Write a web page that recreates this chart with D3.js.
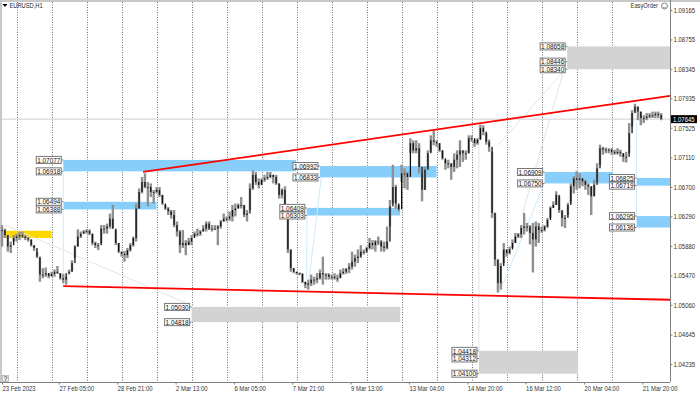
<!DOCTYPE html>
<html>
<head>
<meta charset="utf-8">
<script src="https://cdn.jsdelivr.net/npm/d3@7"></script>
<style>
    html, body { margin: 0; padding: 0; background: #fff; overflow: hidden; }
    svg { display: block; }
    svg text { font-family: "Liberation Sans", sans-serif; }
</style>
</head>
<body>
<svg id="chart" width="700" height="393"></svg>
<script>
// two-hour candles, values are price * 10000
const highs = [10617,10612,10603,10594,10603,10605,10608,10608,10603,10600,10597,10589,10580,10571,10557,10558,10550,10552,10555,10560,
    10550,10549,10545,10555,10568,10589,10611,10608,10610,10611,10611,10605,10594,10592,10617,10617,10619,10633,10645,10610,
    10592,10580,10581,10585,10592,10601,10647,10668,10684,10689,10677,10675,10666,10670,10670,10659,10645,10642,10638,10638,
    10622,10610,10610,10596,10599,10603,10608,10612,10610,10617,10622,10622,10617,10617,10617,10624,10633,10629,10636,10645,
    10647,10647,10656,10645,10638,10675,10693,10691,10682,10682,10687,10691,10691,10687,10687,10675,10668,10671,10638,10583,
    10557,10552,10551,10550,10538,10541,10548,10545,10550,10555,10573,10550,10550,10548,10550,10548,10555,10557,10557,10564,
    10580,10576,10583,10589,10583,10587,10599,10596,10596,10601,10596,10594,10615,10652,10701,10673,10645,10701,10696,10691,
    10738,10735,10735,10731,10689,10698,10721,10742,10749,10735,10731,10721,10708,10708,10703,10717,10721,10735,10721,10721,
    10742,10742,10736,10738,10757,10756,10745,10736,10719,10634,10569,10564,10592,10583,10587,10597,10606,10606,10617,10634,
    10620,10617,10620,10622,10620,10615,10617,10627,10643,10650,10664,10657,10636,10631,10648,10675,10685,10692,10689,10682,
    10680,10675,10671,10680,10703,10729,10726,10725,10724,10724,10722,10724,10722,10717,10719,10759,10777,10786,10782,10775,
    10770,10773,10773,10775,10775,10775,10773];
const lows = [10587,10599,10580,10578,10594,10594,10596,10599,10596,10594,10587,10581,10571,10538,10543,10545,10543,10545,10545,10549,
    10541,10536,10534,10548,10552,10571,10587,10599,10605,10605,10603,10589,10585,10582,10592,10605,10605,10612,10612,10589,
    10578,10573,10566,10571,10580,10587,10594,10640,10661,10668,10643,10656,10647,10661,10656,10645,10638,10631,10626,10614,
    10601,10578,10585,10575,10589,10589,10601,10601,10602,10608,10608,10610,10608,10610,10589,10612,10622,10622,10623,10622,
    10629,10640,10640,10628,10622,10638,10666,10673,10668,10673,10677,10680,10682,10675,10673,10654,10654,10638,10578,10552,
    10550,10548,10547,10536,10529,10527,10532,10534,10536,10541,10534,10541,10541,10541,10541,10538,10543,10548,10549,10550,
    10555,10559,10564,10571,10576,10578,10583,10583,10580,10589,10580,10580,10583,10615,10647,10640,10636,10677,10668,10666,
    10717,10717,10717,10689,10650,10666,10696,10719,10728,10726,10719,10708,10694,10696,10680,10691,10696,10698,10705,10708,
    10717,10733,10726,10729,10736,10742,10729,10719,10627,10560,10523,10527,10564,10573,10576,10585,10592,10599,10599,10604,
    10608,10590,10551,10587,10592,10606,10608,10613,10627,10641,10645,10634,10615,10613,10631,10648,10661,10666,10668,10671,
    10666,10659,10631,10657,10678,10701,10715,10717,10717,10715,10715,10715,10712,10705,10704,10717,10754,10775,10763,10756,
    10759,10763,10766,10766,10766,10766,10763];
const closes = [10610,10603,10587,10589,10599,10601,10603,10601,10599,10597,10589,10585,10573,10548,10548,10550,10546,10549,10552,10550,
    10543,10541,10550,10552,10564,10587,10601,10605,10608,10609,10605,10592,10589,10589,10612,10612,10615,10626,10612,10592,
    10580,10577,10575,10582,10589,10599,10640,10663,10677,10670,10670,10663,10663,10666,10659,10647,10640,10636,10631,10617,
    10608,10589,10592,10589,10594,10599,10605,10605,10608,10612,10619,10612,10612,10612,10615,10622,10626,10626,10629,10638,
    10640,10645,10645,10631,10633,10668,10687,10677,10673,10680,10682,10684,10687,10684,10675,10659,10666,10643,10583,10557,
    10552,10550,10549,10538,10534,10536,10541,10541,10543,10550,10548,10548,10545,10545,10543,10543,10550,10552,10556,10559,
    10566,10571,10573,10580,10580,10585,10592,10589,10594,10594,10587,10585,10594,10643,10670,10647,10639,10689,10689,10684,
    10731,10721,10724,10698,10666,10694,10717,10735,10733,10731,10721,10710,10703,10703,10698,10708,10715,10721,10717,10717,
    10738,10738,10731,10736,10752,10747,10733,10726,10634,10569,10536,10560,10583,10578,10583,10592,10601,10604,10613,10615,
    10615,10606,10597,10615,10610,10610,10615,10624,10641,10645,10659,10638,10627,10627,10645,10671,10682,10680,10682,10678,
    10673,10671,10657,10673,10696,10724,10722,10722,10722,10719,10717,10719,10717,10712,10712,10745,10773,10782,10775,10766,
    10766,10768,10770,10770,10772,10770,10765];

const priceTicks = [1.09165, 1.08755, 1.08345, 1.07935, 1.07525, 1.07110, 1.06700, 1.06290, 1.05880, 1.05470, 1.05060, 1.04645, 1.04235];
const timeTicks = [0, 39, 79, 119, 159, 199, 239, 279, 319, 359, 399, 439];
const timeLabels = ["23 Feb 2023", "27 Feb 05:00", "28 Feb 21:00", "2 Mar 13:00", "6 Mar 05:00", "7 Mar 21:00",
    "9 Mar 13:00", "13 Mar 04:00", "14 Mar 20:00", "16 Mar 12:00", "20 Mar 04:00", "21 Mar 20:00"];
const lastPrice = 1.07645;

// zones: start bar, end bar, top price, bottom price, colour
const zoneStart = [0, 42, 42, 218, 209, 372, 435, 435, 130, 327, 387.5];
const zoneEnd = [34, 201.6, 106, 298, 273, 419, 458, 458, 273, 395, 458];
const zoneTop = [1.06090, 1.07077, 1.06494, 1.06992, 1.06409, 1.06909, 1.06825, 1.06295, 1.05030, 1.04418, 1.08658];
const zoneBottom = [1.05990, 1.06918, 1.06388, 1.06833, 1.06303, 1.06750, 1.06719, 1.06136, 1.04818, 1.04100, 1.08340];
const zoneColor = ["#FFD700", "#87CEFA", "#87CEFA", "#87CEFA", "#87CEFA", "#87CEFA", "#87CEFA", "#87CEFA", "#D3D3D3", "#D3D3D3", "#D3D3D3"];

// price tags on the left of the zones: zone number and price
const tagZone = [1, 1, 2, 2, 3, 3, 4, 4, 5, 5, 6, 6, 7, 7, 8, 8, 9, 9, 9, 10, 10, 10];
const tagPrice = [1.07077, 1.06918, 1.06494, 1.06388, 1.06992, 1.06833, 1.06409, 1.06303, 1.06909, 1.06750, 1.06825, 1.06719,
    1.06295, 1.06136, 1.05030, 1.04818, 1.04418, 1.04312, 1.04100, 1.08658, 1.08446, 1.08340];

// trend lines and the thin helper lines: bar, price, bar, price
const trendLines = [[96.7, 1.0691, 458, 1.0797], [42, 1.0532, 458, 1.0513]];
const blueLines = [[42, 1.0691, 42, 1.0532], [209, 1.0631, 209, 1.0541], [219, 1.0684, 210.5, 1.0541], [372, 1.0676, 341, 1.0523], [435, 1.0759, 435, 1.0614]];
const greyLines = [[2, 1.0617, 125.5, 1.0509], [340, 1.0728, 385, 1.0831], [357, 1.0634, 385, 1.0831], [327, 1.0756, 327, 1.0443]];

const svg = d3.select("#chart");
const chartLeft = 2, chartRight = 670, chartTop = 2, chartBottom = 382;

const xScale = d3.scaleLinear()
    .domain([0, 458])
    .range([chartLeft, chartRight]);
const yScale = d3.scaleLinear()
    .domain([1.09165, 1.04235])
    .range([10, 364]);

// frame of the terminal window
svg.append("rect").attr("width", 700).attr("height", chartTop).attr("fill", "#c8c8c8");
svg.append("rect").attr("width", chartLeft).attr("height", chartBottom).attr("fill", "#c8c8c8");

// dotted day separators
svg.append("g").selectAll("line")
    .data(d3.range(18))
    .join("line")
    .attr("x1", d => Math.round(xScale(10.3 + 24 * d)) + 0.5)
    .attr("x2", d => Math.round(xScale(10.3 + 24 * d)) + 0.5)
    .attr("y1", chartTop)
    .attr("y2", chartBottom)
    .attr("stroke", "#707070")
    .attr("stroke-width", 1)
    .attr("stroke-dasharray", "1,1.5");

svg.append("g").selectAll("rect")
    .data(zoneStart)
    .join("rect")
    .attr("x", d => xScale(d))
    .attr("width", (d, i) => xScale(zoneEnd[i]) - xScale(d))
    .attr("y", (d, i) => yScale(zoneTop[i]))
    .attr("height", (d, i) => yScale(zoneBottom[i]) - yScale(zoneTop[i]))
    .attr("fill", (d, i) => zoneColor[i]);

svg.append("line")
    .attr("x1", chartLeft)
    .attr("x2", chartRight)
    .attr("y1", yScale(lastPrice))
    .attr("y2", yScale(lastPrice))
    .attr("stroke", "#d0d0d0");

const drawLines = (lines, colour, width) => {
    svg.append("g").selectAll("line")
        .data(lines)
        .join("line")
        .attr("x1", d => xScale(d[0]))
        .attr("y1", d => yScale(d[1]))
        .attr("x2", d => xScale(d[2]))
        .attr("y2", d => yScale(d[3]))
        .attr("stroke", colour)
        .attr("stroke-width", width);
};

drawLines(greyLines, "#e4e4e4", 1);
drawLines(blueLines, "#cdeafc", 1);

// candles
const candles = svg.append("g");
candles.selectAll(".wick")
    .data(highs)
    .join("rect")
    .attr("class", "wick")
    .attr("x", (d, i) => xScale(i * 2) - 1.2)
    .attr("width", 2.4)
    .attr("y", d => yScale(d / 10000))
    .attr("height", (d, i) => yScale(lows[i] / 10000) - yScale(d / 10000))
    .attr("fill", "#909090");

candles.selectAll(".body")
    .data(closes)
    .join("rect")
    .attr("class", "body")
    .attr("x", (d, i) => xScale(i * 2) - 0.65)
    .attr("width", 1.3)
    .attr("y", (d, i) => yScale(Math.max(d, i ? closes[i - 1] : d) / 10000))
    .attr("height", (d, i) => Math.max(1, Math.abs(yScale(d / 10000) - yScale((i ? closes[i - 1] : d) / 10000))))
    .attr("fill", "#111");

drawLines(trendLines, "#ff0000", 1.8);

// price tags
const tagWidth = 25, tagHeight = 7;
const tags = svg.append("g").selectAll("g")
    .data(tagPrice)
    .join("g")
    .attr("transform", (d, i) => `translate(${xScale(zoneStart[tagZone[i]]) - tagWidth - 2},${yScale(d)})`);

tags.append("line")
    .attr("x1", tagWidth)
    .attr("x2", tagWidth + 2)
    .attr("stroke", "#777");

tags.append("rect")
    .attr("y", -tagHeight / 2)
    .attr("width", tagWidth)
    .attr("height", tagHeight)
    .attr("fill", "#fff")
    .attr("stroke", "#777")
    .attr("stroke-width", 1);

tags.append("text")
    .attr("x", tagWidth / 2)
    .attr("y", 2.7)
    .attr("text-anchor", "middle")
    .attr("font-size", 7.8)
    .attr("fill", "#111")
    .text(d => d3.format(".5f")(d));

// axes
const yAxisG = svg.append("g")
    .attr("transform", `translate(${chartRight + 0.5},0)`)
    .call(d3.axisRight(yScale).tickValues(priceTicks).tickFormat(d3.format(".5f")).tickSize(2).tickPadding(1))
    .call(g => g.select(".domain").attr("d", `M0,0V${chartBottom}`).attr("stroke", "#808080"));
yAxisG.selectAll("line").attr("stroke", "#808080");
yAxisG.selectAll("text").attr("font-size", 7.3).attr("fill", "#333");

const xAxisG = svg.append("g")
    .attr("transform", `translate(0,${chartBottom + 0.5})`)
    .call(d3.axisBottom(xScale).tickValues(timeTicks).tickFormat((d, i) => timeLabels[i]).tickSize(2).tickPadding(1))
    .call(g => g.select(".domain").attr("d", `M0,0H${chartRight}`).attr("stroke", "#808080"));
xAxisG.selectAll("line").attr("stroke", "#808080");
xAxisG.selectAll("text")
    .attr("font-size", 7.2)
    .attr("fill", "#333")
    .attr("text-anchor", "start");

// current price tag
svg.append("rect")
    .attr("x", chartRight + 1)
    .attr("y", yScale(lastPrice) - 4)
    .attr("width", 26)
    .attr("height", 8)
    .attr("fill", "#000");
svg.append("text")
    .attr("x", chartRight + 3)
    .attr("y", yScale(lastPrice) + 2.5)
    .attr("font-size", 7.3)
    .attr("fill", "#fff")
    .text(d3.format(".5f")(lastPrice));

// title and corner widgets
svg.append("path").attr("d", "M2.5,4H7.5L5,7Z").attr("fill", "#000");
svg.append("text").attr("x", 9.5).attr("y", 8.2).attr("font-size", 7).attr("fill", "#222").text("EURUSD,H1");
svg.append("text").attr("x", 658).attr("y", 8.2).attr("text-anchor", "end").attr("font-size", 7).attr("fill", "#333").text("EasyOrder");
svg.append("circle").attr("cx", 664.5).attr("cy", 6).attr("r", 3).attr("fill", "none").attr("stroke", "#555").attr("stroke-width", 0.7);
svg.append("path").attr("d", "M662.8,7Q664.5,8.8 666.2,7").attr("fill", "none").attr("stroke", "#555").attr("stroke-width", 0.6);
svg.append("rect").attr("x", 2.5).attr("y", 375.5).attr("width", 6).attr("height", 6).attr("fill", "#eee").attr("stroke", "#999").attr("stroke-width", 0.6);

// the terminal font is narrower than Liberation Sans
svg.selectAll("text").each(function() {
    d3.select(this)
        .attr("textLength", this.getComputedTextLength() * 0.82)
        .attr("lengthAdjust", "spacingAndGlyphs");
});

svg.append("text").attr("x", 5.5).attr("y", 380.5).attr("text-anchor", "middle").attr("font-size", 6.5).attr("fill", "#111").text("?");
</script>
</body>
</html>
